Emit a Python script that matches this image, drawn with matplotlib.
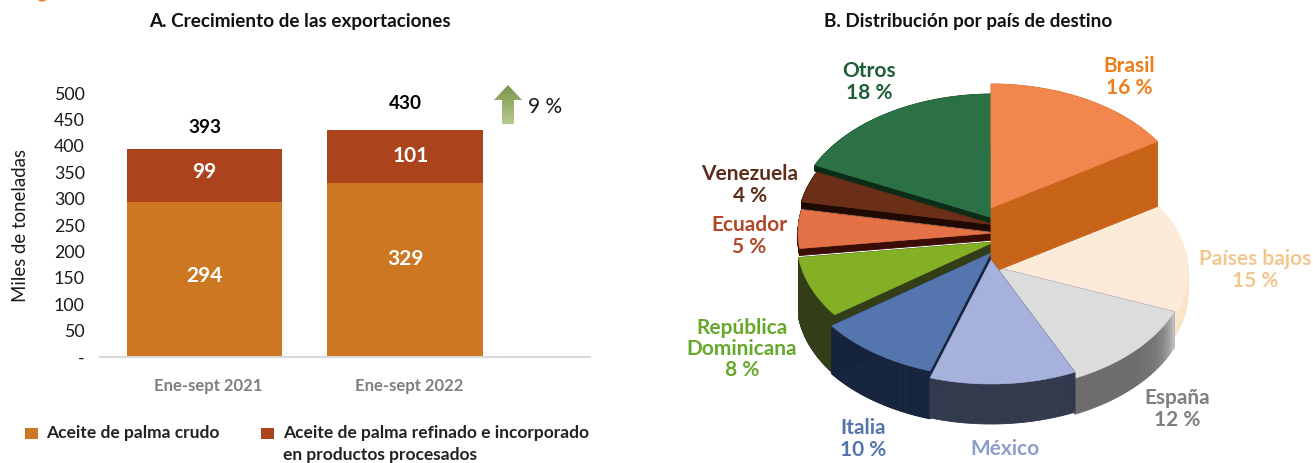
import numpy as np
import matplotlib
matplotlib.use('Agg')
import matplotlib.pyplot as plt
from matplotlib.colors import to_rgb
from matplotlib.patches import Polygon
from matplotlib.transforms import ScaledTranslation

plt.rcParams['font.family'] = ['Lato', 'DejaVu Sans']

# A. exports
periods = ['Ene-sept 2021', 'Ene-sept 2022']
crudo = [294, 329]
refinado = [99, 101]
totals = [393, 430]
growth = '9 %'

# B. destinations, clockwise from 12 o'clock
countries = ['Brasil', 'Países bajos', 'España', 'México', 'Italia',
             'República\nDominicana', 'Ecuador', 'Venezuela', 'Otros']
shares = [16, 15, 12, 12, 10, 8, 5, 4, 18]

# pie look: top colour, wall colours (most of the rim, right end of the rim), label colour
top_colors = ['#f2874d', '#fdebd9', '#dcdcdc', '#a6b1dc', '#5475ad',
              '#84b025', '#e57146', '#6b2f17', '#2b7145']
wall_a = ['#c8641a', '#fbe3c8', '#6c6c6c', '#333a4e', '#15233c',
          '#333d17', '#3a0d05', '#200803', '#0b2d18']
wall_b = ['#c8641a', '#fbe3c8', '#c8c8c8', '#333a4e', '#15233c',
          '#333d17', '#3a0d05', '#200803', '#0b2d18']
label_colors = ['#ee7d1c', '#f2c78f', '#7f7f7f', '#8f9dca', '#5575ab',
                '#66a82a', '#b4482a', '#5c2d1a', '#1d5e36']

# pixel layout
apex_x = [991, 991, 991, 991, 991, 994, 995, 995, 993]
apex_y = [208, 272, 266, 260, 253, 242, 233, 225, 218]
depth = [65, 20, 36, 40, 48, 60, 7, 7, 6]
draw_order = [8, 7, 6, 5, 4, 1, 2, 0, 3]
rx, ry = 197, 124
label_xy = [(1129, 77), (1255, 270), (1177, 409), (1005, 449), (863, 439),
            (742, 349), (749, 236), (750, 185), (869, 82)]

W, H = 1313, 463
fig = plt.figure(figsize=(W / 100, H / 100), dpi=100)

# overlay in pixel coordinates for the pie, legend and arrow
ov = fig.add_axes([0, 0, 1, 1])
ov.set_xlim(0, W)
ov.set_ylim(H, 0)
ov.axis('off')

# bars
ax = fig.add_axes([100 / W, 1 - 357 / H, 490 / W, 264 / H])
ax.patch.set_alpha(0)
x = np.arange(len(periods))
ax.bar(x, crudo, width=0.775, color='#cd7722')
ax.bar(x, refinado, width=0.775, bottom=crudo, color='#ab431c')
ax.set_xlim(-0.522, 1.922)
ax.set_ylim(0, 500)
ax.set_yticks(range(0, 501, 50))
ax.set_yticklabels(['-'] + [str(v) for v in range(50, 501, 50)], fontsize=12.8, color='#1a1a1a')
ax.set_xticks(x)
ax.set_xticklabels(periods, fontsize=12, fontweight='bold', color='#7f7f7f')
ax.tick_params(length=0)
ax.tick_params(axis='x', pad=15)
ax.tick_params(axis='y', pad=11)
shift = ScaledTranslation(4 / 100, 0, fig.dpi_scale_trans)
for lab in ax.get_xticklabels():
    lab.set_transform(lab.get_transform() + shift)
for s in ['top', 'left', 'right']:
    ax.spines[s].set_visible(False)
ax.spines['bottom'].set_color('#d9d9d9')
ax.spines['bottom'].set_linewidth(1.5)
ax.set_ylabel('Miles de toneladas', fontsize=13.4, color='#1a1a1a', labelpad=18)

crudo_nudge = [6, 21]
refinado_nudge = [6, 1]
for i in x:
    ax.text(i, crudo[i] / 2 + crudo_nudge[i], str(crudo[i]), ha='center', va='center', color='white',
            fontsize=15, fontweight='bold')
    ax.text(i + (0.03 if i else 0), crudo[i] + refinado[i] / 2 + refinado_nudge[i], str(refinado[i]),
            ha='center', va='center', color='white', fontsize=15, fontweight='bold')
ax.text(0, 435, str(totals[0]), ha='center', va='center', color='black', fontsize=13.6, fontweight='bold')
ax.text(1, 481, str(totals[1]), ha='center', va='center', color='black', fontsize=13.6, fontweight='bold')

# growth arrow with a vertical gradient
arrow = Polygon([(508, 85), (522, 100), (514, 100), (514, 124), (502, 124), (502, 100), (494, 100)],
                transform=ov.transData, facecolor='none', edgecolor='none')
ov.add_patch(arrow)
grad = np.linspace(0, 1, 64).reshape(-1, 1, 1)
c0, c1 = np.array(to_rgb('#7c964a')), np.array(to_rgb('#b6ca92'))
img = ov.imshow(c0 + grad * (c1 - c0), extent=(494, 522, 124, 85), aspect='auto', zorder=2)
img.set_clip_path(arrow)
ov.set_xlim(0, W)
ov.set_ylim(H, 0)
ov.text(528, 107, growth, fontsize=15, ha='left', va='center', color='#1a1a1a')

# titles
ov.text(300, 21, 'A. Crecimiento de las exportaciones', ha='center', va='center', fontsize=13.6,
        fontweight='bold', color='#111111')
ov.text(968, 21, 'B. Distribución por país de destino', ha='center', va='center', fontsize=13.6,
        fontweight='bold', color='#111111')

# bit of a logo cut off by the top edge
ov.fill([38, 46, 44, 40], [0, 0, 1.5, 1.5], color='#ee7d1c', lw=0)

# legend
ov.fill([25, 38, 38, 25], [428, 428, 439, 439], color='#cd7722', lw=0)
ov.fill([261, 274, 274, 261], [428, 428, 439, 439], color='#ab431c', lw=0)
ov.text(46, 433, 'Aceite de palma crudo', fontsize=12.5, fontweight='bold', va='center', color='#222222')
ov.text(283, 433, 'Aceite de palma refinado e incorporado', fontsize=12.5, fontweight='bold', va='center',
        color='#222222')
ov.text(283, 455, 'en productos procesados', fontsize=12.5, fontweight='bold', va='center', color='#222222')

# 3D pie: each slice is an ellipse sector with its own apex, pushed down for the walls
edges = np.cumsum([0] + shares) / sum(shares) * 2 * np.pi
for i in draw_order:
    t = np.linspace(edges[i], edges[i + 1], 60)
    px = apex_x[i] + rx * np.sin(t)
    py = apex_y[i] - ry * np.cos(t)
    d = depth[i]
    ca, cb = np.array(to_rgb(wall_a[i])), np.array(to_rgb(wall_b[i]))
    # the two cut faces first, then the rim over them
    for e in (0, -1):
        ov.fill([apex_x[i], px[e], px[e], apex_x[i]], [apex_y[i], py[e], py[e] + d, apex_y[i] + d],
                color=tuple(ca), lw=0.6, zorder=3)
    for j in range(len(t) - 1):
        col = tuple(ca + (cb - ca) * (1 - j / (len(t) - 2)) ** 6)
        ov.fill([px[j], px[j + 1], px[j + 1], px[j]], [py[j], py[j + 1], py[j + 1] + d, py[j] + d],
                color=col, lw=0.6, zorder=3)
    ov.fill(np.r_[apex_x[i], px], np.r_[apex_y[i], py], color=top_colors[i], lw=0.4, zorder=3)

# pie labels
for i, name in enumerate(countries):
    if name == 'México':
        txt = name  # the percentage falls outside the picture
    else:
        txt = f'{name}\n{shares[i]} %'
    ov.text(label_xy[i][0], label_xy[i][1], txt, ha='center', va='center', fontsize=15,
            fontweight='bold', color=label_colors[i], linespacing=1.08, zorder=5)

fig.savefig('out.png', dpi=100)
